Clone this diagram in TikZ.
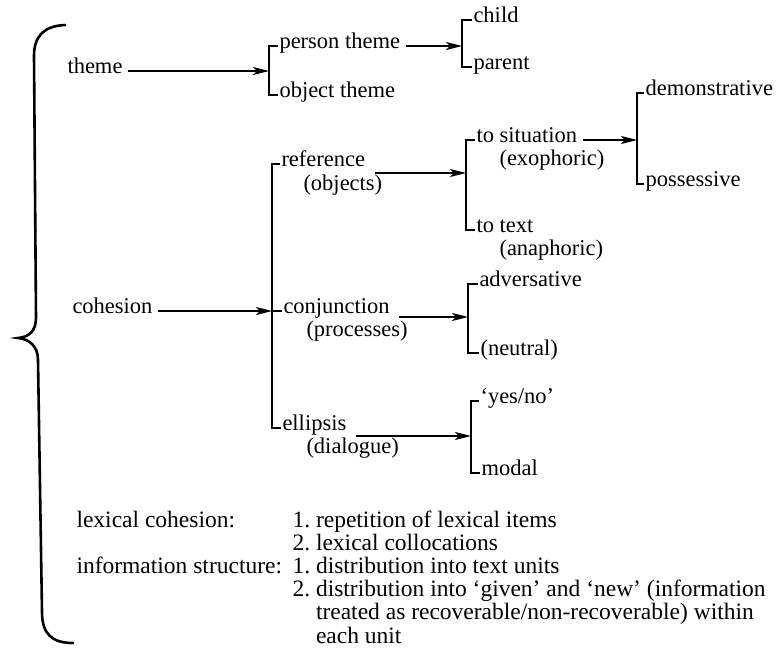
\documentclass[tikz,border=0pt]{standalone}
\usepackage{fontspec}
\setmainfont{Liberation Serif}
\usetikzlibrary{arrows.meta,positioning}

\begin{document}
\begin{tikzpicture}[
    x=1pt, y=-1pt,
    every node/.style={font=\fontsize{22.5}{23}\selectfont},
    lbl/.style={anchor=mid west, inner sep=0pt, outer sep=1.5pt},
    note/.style={lbl, font=\fontsize{23.5}{23}\selectfont},
    arr/.style={line width=1.2pt, -{Stealth[length=16pt,width=8pt,inset=4pt]}, shorten <=4pt},
    subarr/.style={arr, shorten <=8pt},
    fork/.style={line width=1.3pt},
    brace/.style={line width=2.6pt, line cap=round}
]
\useasboundingbox (0,0) rectangle (778,647);

% Outer brace
\draw[brace] (65,25) .. controls (44,26) and (34,36) .. (34,56) -- (36,318)
    .. controls (36,331) and (29,337) .. (18,338)
    .. controls (29,339) and (38,346) .. (38,360) -- (42,612)
    .. controls (42,634) and (52,643) .. (73,643);

% Theme branch
\node[lbl] (theme) at (66,71) {theme};
\coordinate (thfork) at (269,71);
\node[lbl] (person) at (278,46) {person theme};
\node[lbl] (object) at (278,95) {object theme};
\draw[arr] (theme.mid east) -- (thfork);
\draw[fork] (person.mid west) -| (thfork) |- (object.mid west);

\coordinate (ptfork) at (462,46);
\node[lbl] (child) at (472,20) {child};
\node[lbl] (parent) at (472,67) {parent};
\draw[arr] (person.mid east) -- (ptfork);
\draw[fork] (child.mid west) -| (ptfork) |- (parent.mid west);

% Cohesion branch
\node[lbl] (cohesion) at (71,311) {cohesion};
\coordinate (cofork) at (272,311);
\node[lbl] (ref) at (280,164) {reference};
\node[lbl] (objs) at (302,188) {(objects)};
\node[lbl] (conj) at (282,311) {conjunction};
\node[lbl] (procs) at (305,334) {(processes)};
\node[lbl] (ellip) at (281,428) {ellipsis};
\node[lbl] (dial) at (305,451) {(dialogue)};
\draw[arr] (cohesion.mid east) -- (cofork);
\draw[fork] (ref.mid west) -| (cofork) |- (ellip.mid west);
\draw[fork] (cofork) -- (conj.mid west);

% Reference
\coordinate (reffork) at (466,173);
\node[lbl] (sit) at (475,140) {to situation};
\node[lbl] (exo) at (498,163) {(exophoric)};
\node[lbl] (txt) at (475,230) {to text};
\node[lbl] (ana) at (498,253) {(anaphoric)};
\draw[subarr] (ref.east |- reffork) -- (reffork);
\draw[fork] (sit.mid west) -| (reffork) |- (txt.mid west);

\coordinate (sitfork) at (637,140);
\node[lbl] (demo) at (644,93) {demonstrative};
\node[lbl] (poss) at (644,184) {possessive};
\draw[arr] (sit.mid east) -- (sitfork);
\draw[fork] (demo.mid west) -| (sitfork) |- (poss.mid west);

% Conjunction
\coordinate (conjfork) at (468,317);
\node[lbl] (adv) at (478,284) {adversative};
\node[lbl] (neut) at (479,353) {(neutral)};
\draw[subarr] (conj.east |- conjfork) -- (conjfork);
\draw[fork] (adv.mid west) -| (conjfork) |- (neut.mid west);

% Ellipsis
\coordinate (elfork) at (471,436);
\node[lbl] (yesno) at (479,401) {‘yes/no’};
\node[lbl] (modal) at (480,473) {modal};
\draw[subarr] (ellip.east |- elfork) -- (elfork);
\draw[fork] (yesno.mid west) -| (elfork) |- (modal.mid west);

% Lexical cohesion and information structure
\node[note] (lexcoh) at (75,525) {lexical cohesion:};
\node[note] (infostr) at (75,571) {information structure:};
\node[note] (lexitems) at (291,525) {\begin{tabular}[t]{@{}l@{\ }l@{}}
    1. & repetition of lexical items\\
    2. & lexical collocations
  \end{tabular}};
\node[note] (infoitems) at (291,571) {\begin{tabular}[t]{@{}l@{\ }l@{}}
    1. & distribution into text units\\
    2. & distribution into ‘given’ and ‘new’ (information\\
       & treated as recoverable/non-recoverable) within\\
       & each unit
  \end{tabular}};

\end{tikzpicture}
\end{document}
